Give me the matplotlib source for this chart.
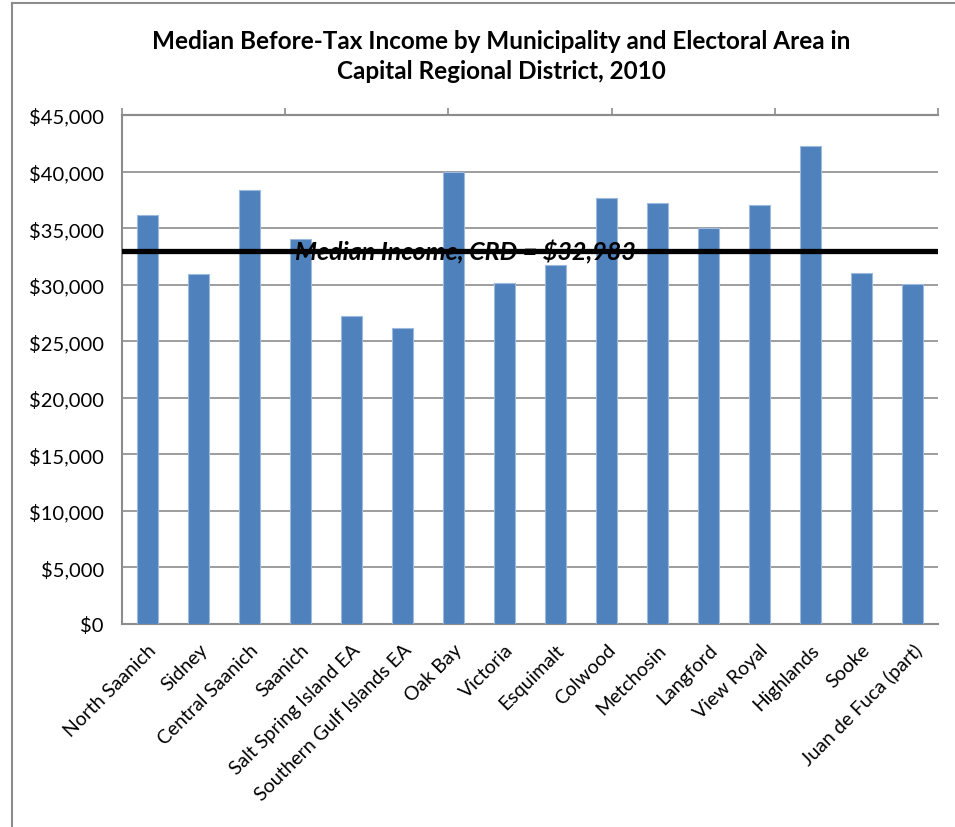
import matplotlib
matplotlib.use('Agg')
from matplotlib import pyplot as plt
from matplotlib.lines import Line2D
from matplotlib.ticker import FuncFormatter

areas = ['North Saanich', 'Sidney', 'Central Saanich', 'Saanich',
         'Salt Spring Island EA', 'Southern Gulf Islands EA', 'Oak Bay',
         'Victoria', 'Esquimalt', 'Colwood', 'Metchosin', 'Langford',
         'View Royal', 'Highlands', 'Sooke', 'Juan de Fuca (part)']
income = [36150, 30900, 38400, 34000, 27250, 26200, 40000, 30150,
          31700, 37650, 37250, 35050, 37000, 42300, 31000, 30050]
crd_median = 32983
yticks = list(range(0, 45001, 5000))

plt.rcParams['font.family'] = ['Lato', 'DejaVu Sans']

fig = plt.figure(figsize=(9.55, 8.28), dpi=100)
ax = fig.add_axes([122/955, 1-625/828, (938-122)/955, (625-116)/828])

# 柱状图
ax.bar(range(len(areas)), income, width=0.4, color='#4F81BD',
       edgecolor='#9DB9DE', linewidth=0.8, zorder=3)
ax.set_xlim(-0.5, len(areas)-0.5)
ax.set_ylim(0, 45000)
ax.set_yticks(yticks)
ax.yaxis.set_major_formatter(FuncFormatter(lambda v, p: '${:,.0f}'.format(v)))
ax.set_xticks(range(len(areas)))
ax.set_xticklabels(areas, rotation=45, ha='right', rotation_mode='anchor', fontsize=14)
ax.tick_params(axis='y', length=0, labelsize=14.5, pad=13)
ax.tick_params(axis='x', length=0, pad=12)
ax.grid(axis='y', color='#8C8C8C', linewidth=1.2, zorder=0)
for s in ['left', 'bottom', 'top']:
    ax.spines[s].set_color('#8C8C8C')
    ax.spines[s].set_linewidth(1.5)
ax.spines['right'].set_visible(False)

# 中位数线
ax.axhline(crd_median, color='black', linewidth=3.8, zorder=5)
ax.text(6.23, crd_median, 'Median Income, CRD = ${:,}'.format(crd_median),
        ha='center', va='center', fontsize=18, fontweight='bold',
        fontstyle='italic', zorder=4)

# 顶部次坐标轴刻度
ax2 = ax.twiny()
ax2.set_xlim(0, 5)
ax2.set_xticks(range(6))
ax2.set_xticklabels([])
ax2.tick_params(axis='x', direction='out', length=5, color='#8C8C8C', width=1.2)
for s in ['left', 'bottom', 'right']:
    ax2.spines[s].set_visible(False)
ax2.spines['top'].set_color('#8C8C8C')
ax2.spines['top'].set_linewidth(1.5)

fig.suptitle('Median Before-Tax Income by Municipality and Electoral Area in\nCapital Regional District, 2010',
             x=0.525, y=0.964, fontsize=17.5, fontweight='bold', linespacing=1.4)

# 外框
fig.add_artist(Line2D([12/955, 12/955], [0, 1-4/828], color='#8C8C8C', linewidth=1.5))
fig.add_artist(Line2D([12/955, 1], [1-4/828, 1-4/828], color='#8C8C8C', linewidth=1.5))

plt.savefig('out.png')
